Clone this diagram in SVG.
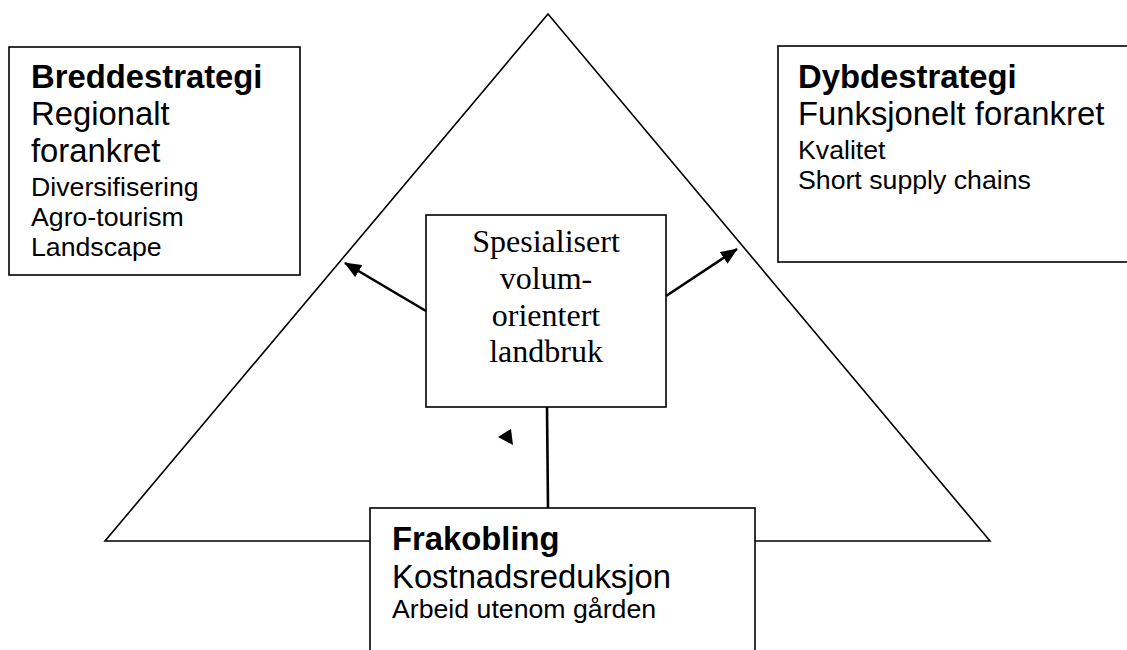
<svg xmlns="http://www.w3.org/2000/svg" width="1127" height="650" viewBox="0 0 1127 650">
<style>
.box{fill:#fff;stroke:#000;stroke-width:1.6}
.sans{font-family:"Liberation Sans",Arial,sans-serif;fill:#000}
.b{font-weight:bold;font-size:32.8px}
.l{font-size:32.8px}
.s{font-size:26.7px}
.serif{font-family:"Liberation Serif","Times New Roman",serif;font-size:32px;fill:#000}
.conn{stroke:#000;stroke-width:2.6;fill:none}
</style>
<defs>
<marker id="ah" markerUnits="userSpaceOnUse" markerWidth="18" markerHeight="14" refX="16" refY="7" orient="auto">
<path d="M0,0 L17,7 L0,14 Z" fill="#000"/>
</marker>
</defs>
<rect width="1127" height="650" fill="#fff"/>
<g id="triangle">
<polygon points="548,14 990,541 105,541" fill="none" stroke="#000" stroke-width="1.6"/>
</g>
<g id="breddestrategi">
<rect class="box" x="9" y="47" width="291" height="228"/>
<text class="sans b" x="31" y="88">Breddestrategi</text>
<text class="sans l" x="31" y="125">Regionalt</text>
<text class="sans l" x="31" y="162">forankret</text>
<text class="sans s" x="31" y="196">Diversifisering</text>
<text class="sans s" x="31" y="226">Agro-tourism</text>
<text class="sans s" x="31" y="256">Landscape</text>
</g>
<g id="dybdestrategi">
<rect class="box" x="778" y="46" width="360" height="216"/>
<text class="sans b" x="798" y="88">Dybdestrategi</text>
<text class="sans l" x="798" y="125">Funksjonelt forankret</text>
<text class="sans s" x="798" y="159">Kvalitet</text>
<text class="sans s" x="798" y="189">Short supply chains</text>
</g>
<g id="spesialisert">
<rect class="box" x="426" y="215" width="240" height="192"/>
<text class="serif" text-anchor="middle" x="546" y="252">Spesialisert</text>
<text class="serif" text-anchor="middle" x="546" y="289">volum-</text>
<text class="serif" text-anchor="middle" x="546" y="326">orientert</text>
<text class="serif" text-anchor="middle" x="546" y="362">landbruk</text>
</g>
<g id="frakobling">
<rect class="box" x="370" y="508" width="385" height="160"/>
<text class="sans b" x="392" y="550">Frakobling</text>
<text class="sans l" x="392" y="588">Kostnadsreduksjon</text>
<text class="sans s" x="392" y="618">Arbeid utenom gården</text>
</g>
<g id="connectors">
<line class="conn" x1="426" y1="311" x2="345" y2="263" marker-end="url(#ah)"/>
<line class="conn" x1="666" y1="296" x2="737" y2="249" marker-end="url(#ah)"/>
<line class="conn" x1="547" y1="407" x2="548" y2="508"/>
<polygon points="498,437 511,429 513,445" fill="#000"/>
</g>
</svg>
